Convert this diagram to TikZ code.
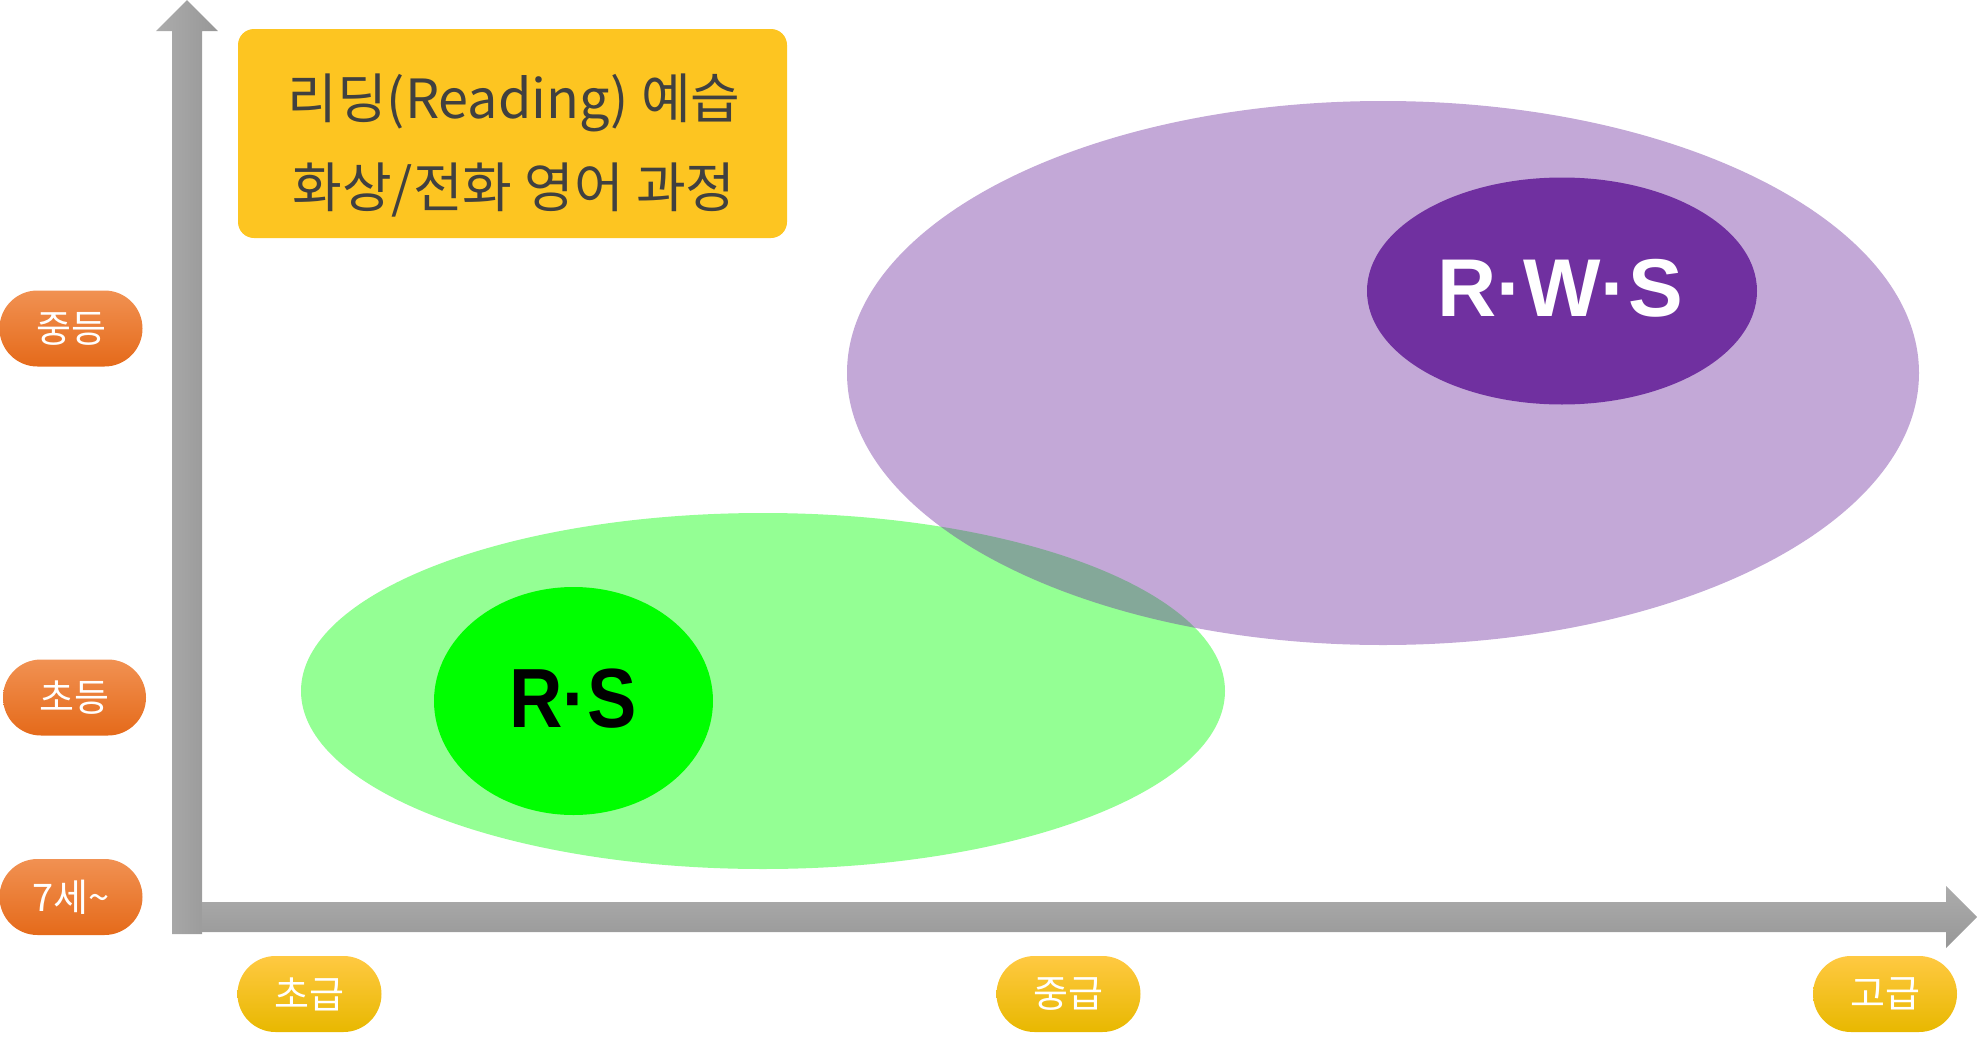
\documentclass[tikz,border=0pt]{standalone}
\usepackage{fontspec}
\newfontfamily\kr{Noto Sans CJK KR}
\newfontfamily\ls{Liberation Sans}
\usetikzlibrary{shapes.geometric,shapes.misc}
\definecolor{boxyellow}{RGB}{253,197,33}
\definecolor{boxtext}{RGB}{64,64,64}
\definecolor{ortop}{RGB}{241,145,82}
\definecolor{ormid}{RGB}{243,128,48}
\definecolor{orbot}{RGB}{229,106,26}
\definecolor{yetop}{RGB}{255,201,66}
\definecolor{yemid}{RGB}{255,200,0}
\definecolor{yebot}{RGB}{232,184,0}
\definecolor{graylt}{RGB}{172,172,172}
\definecolor{graydk}{RGB}{151,151,151}
\definecolor{rwspurple}{RGB}{112,48,160}
\definecolor{rsgreen}{RGB}{0,255,0}
\tikzset{
  agepill/.style={rounded rectangle, minimum width=71.5pt, minimum height=38pt, inner sep=0pt,
    top color=ortop, middle color=ormid, bottom color=orbot, text=white, font=\kr\fontsize{19pt}{22pt}\selectfont},
  levelpill/.style={rounded rectangle, minimum width=72pt, minimum height=38pt, inner sep=0pt,
    top color=yetop, middle color=yemid, bottom color=yebot, text=white, font=\kr\fontsize{19pt}{22pt}\selectfont},
  bigblob/.style={ellipse, inner sep=0pt, draw=none, fill opacity=0.42},
  coreblob/.style={ellipse, inner sep=0pt, draw=none},
  coretext/.style={font=\ls\bfseries\fontsize{42pt}{48pt}\selectfont},
  titletext/.style={text=boxtext, font=\kr\fontsize{27pt}{32pt}\selectfont, inner sep=0pt},
}
\begin{document}
\begin{tikzpicture}[x=0.5pt,y=-0.5pt]
\useasboundingbox (0,0) rectangle (1978,1039);
% axes
\shade[left color=graylt, right color=graydk]
  (172,934) -- (172,31) -- (156,31) -- (187,0) -- (218,31) -- (202,31) -- (202,934) -- cycle;
\shade[top color=graylt, bottom color=graydk]
  (202,902) -- (1946,902) -- (1946,886) -- (1977,917) -- (1946,948) -- (1946,932) -- (202,932) -- cycle;
% title box
\node[rectangle, rounded corners=8pt, fill=boxyellow, minimum width=274.5pt, minimum height=104.5pt, inner sep=0pt] (title) at (512.5,133.5) {};
\node[titletext, anchor=base] (line1) at (514,118) {리딩(Reading) 예습};
\node[titletext, anchor=base] (line2) at (514,207) {화상/전화 영어 과정};
% ellipses
\node[bigblob, fill=rsgreen, minimum width=462pt, minimum height=178pt] (rsarea) at (763,691) {};
\node[coreblob, fill=rsgreen, minimum width=139.5pt, minimum height=114pt] (rs) at (573.5,701) {};
\node[coretext, text=black, xscale=0.88] (rslabel) at (573,699) {R·S};
\node[bigblob, fill=rwspurple, minimum width=536pt, minimum height=272pt] (rwsarea) at (1383,373) {};
\node[coreblob, fill=rwspurple, minimum width=195pt, minimum height=113.5pt] (rws) at (1562,291) {};
\node[coretext, text=white, font=\ls\bfseries\fontsize{41pt}{48pt}\selectfont] (rwslabel) at (1560,288) {R·W·S};
% age pills
\node[agepill] (mid) at (71,328.5) {중등};
\node[agepill] (elem) at (74.5,697.5) {초등};
\node[agepill] (seven) at (71,897) {7세\textasciitilde};
% level pills
\node[levelpill] (beg) at (309.5,994) {초급};
\node[levelpill] (inter) at (1068.5,994) {중급};
\node[levelpill] (adv) at (1885,994) {고급};
\end{tikzpicture}
\end{document}
